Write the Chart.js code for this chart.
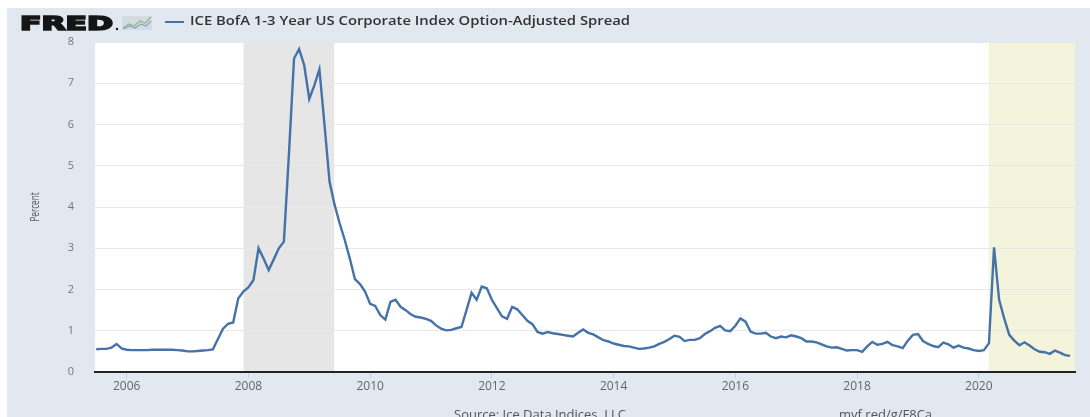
<!DOCTYPE html>
<html lang="en">
<head>
    <meta charset="UTF-8">
    <title>ICE BofA 1-3 Year US Corporate Index Option-Adjusted Spread</title>
    <script src="https://cdn.jsdelivr.net/npm/chart.js"></script>
    <style>
        body {
            margin: 0;
            padding: 0;
            background: #fff;
        }
        .chart-box {
            width: 1090px;
            height: 417px;
        }
    </style>
</head>
<body>
    <div class="chart-box">
        <canvas id="spreadChart" width="1090" height="417"></canvas>
    </div>
    <script>
// monthly values, first one is July 2005
const startYear = 2005.5;
const spread = [
    0.55, 0.56, 0.56, 0.59, 0.68, 0.57,
    0.54, 0.53, 0.53, 0.53, 0.53, 0.54, 0.54, 0.54, 0.54, 0.54, 0.53, 0.52,
    0.50, 0.50, 0.51, 0.52, 0.53, 0.55, 0.80, 1.05, 1.17, 1.20, 1.78, 1.95,
    2.05, 2.23, 3.00, 2.75, 2.47, 2.73, 3.00, 3.16, 5.30, 7.60, 7.83, 7.44,
    6.62, 6.95, 7.34, 6.00, 4.61, 4.05, 3.60, 3.20, 2.75, 2.25, 2.13, 1.95,
    1.65, 1.60, 1.38, 1.27, 1.70, 1.75, 1.58, 1.50, 1.40, 1.34, 1.32, 1.29,
    1.24, 1.13, 1.05, 1.01, 1.02, 1.06, 1.09, 1.50, 1.92, 1.75, 2.07, 2.03,
    1.75, 1.55, 1.35, 1.29, 1.58, 1.52, 1.38, 1.24, 1.16, 0.97, 0.93, 0.97,
    0.94, 0.92, 0.90, 0.88, 0.86, 0.95, 1.03, 0.95, 0.91, 0.84, 0.77, 0.74,
    0.69, 0.66, 0.63, 0.62, 0.59, 0.56, 0.57, 0.59, 0.62, 0.68, 0.73, 0.80,
    0.88, 0.85, 0.75, 0.78, 0.78, 0.82, 0.92, 0.99, 1.07, 1.12, 1.01, 0.99,
    1.12, 1.30, 1.22, 0.98, 0.93, 0.93, 0.95, 0.86, 0.82, 0.86, 0.84, 0.89,
    0.86, 0.82, 0.74, 0.74, 0.72, 0.67, 0.62, 0.59, 0.60, 0.56, 0.52, 0.53,
    0.53, 0.49, 0.62, 0.73, 0.66, 0.68, 0.73, 0.65, 0.62, 0.58, 0.76, 0.90,
    0.92, 0.75, 0.68, 0.63, 0.60, 0.71, 0.67, 0.59, 0.64, 0.59, 0.57, 0.53,
    0.51, 0.53, 0.70, 3.02, 1.75, 1.30, 0.90, 0.76, 0.65, 0.72, 0.64, 0.55,
    0.49, 0.48, 0.44, 0.52, 0.47, 0.41, 0.39
];

const xTickYears = [2006, 2008, 2010, 2012, 2014, 2016, 2018, 2020];
const yTicks = [0, 1, 2, 3, 4, 5, 6, 7, 8];
// shaded periods (decimal years); null end = to the edge of the plot
const recessionStarts = [2007.92, 2020.16];
const recessionEnds = [2009.41, null];
const recessionColors = ['#e6e6e6', '#f4f4dc'];

const seriesName = 'ICE BofA 1-3 Year US Corporate Index Option-Adjusted Spread';
const sourceText = 'Source: Ice Data Indices, LLC';
const linkText = 'myf.red/g/F8Ca';

const points = spread.map((v, i) => ({ x: startYear + i / 12, y: v }));

const bgPlugin = {
    id: 'fredBackground',
    beforeDraw(chart) {
        const { ctx, chartArea: a, scales } = chart;
        ctx.save();
        ctx.fillStyle = '#fff';
        ctx.fillRect(0, 0, chart.width, chart.height);
        ctx.fillStyle = '#e1e8f0';
        ctx.fillRect(7, 8, chart.width - 7, chart.height - 8);
        ctx.fillStyle = '#fff';
        ctx.fillRect(a.left, a.top, a.right - a.left, a.bottom - a.top);

        // recession shading
        recessionStarts.forEach((s, i) => {
            const x1 = scales.x.getPixelForValue(s);
            const e = recessionEnds[i];
            const x2 = e === null ? a.right : scales.x.getPixelForValue(e);
            ctx.fillStyle = recessionColors[i];
            ctx.fillRect(x1, a.top, x2 - x1, a.bottom - a.top);
        });
        ctx.restore();
    },
    afterDraw(chart) {
        const { ctx } = chart;
        ctx.save();

        // FRED logo (heavy, wide letters)
        ctx.fillStyle = '#151515';
        ctx.strokeStyle = '#151515';
        ctx.lineWidth = 1.6;
        ctx.lineJoin = 'miter';
        ctx.font = 'bold 18px "DejaVu Sans"';
        ctx.textBaseline = 'alphabetic';
        const fw = ctx.measureText('FRED').width;
        ctx.save();
        ctx.translate(20, 29.5);
        ctx.scale(93 / fw, 1.05);
        ctx.fillText('FRED', 0, 0);
        ctx.strokeText('FRED', 0, 0);
        ctx.restore();
        ctx.beginPath();
        ctx.arc(117, 29, 1.2, 0, Math.PI * 2);
        ctx.fill();

        // little chart icon
        ctx.fillStyle = '#d4dbe2';
        ctx.fillRect(122, 16, 30, 14);
        ctx.lineWidth = 1.2;
        ctx.strokeStyle = '#8fbf6a';
        ctx.beginPath();
        ctx.moveTo(123, 28); ctx.lineTo(129, 24); ctx.lineTo(134, 26);
        ctx.lineTo(140, 21); ctx.lineTo(145, 23); ctx.lineTo(151, 17);
        ctx.stroke();
        ctx.strokeStyle = '#7ea6c9';
        ctx.beginPath();
        ctx.moveTo(123, 29); ctx.lineTo(130, 26); ctx.lineTo(135, 28);
        ctx.lineTo(141, 24); ctx.lineTo(146, 26); ctx.lineTo(151, 21);
        ctx.stroke();

        // legend
        ctx.strokeStyle = '#4572a7';
        ctx.lineWidth = 2;
        ctx.beginPath();
        ctx.moveTo(165, 22);
        ctx.lineTo(184, 22);
        ctx.stroke();
        ctx.fillStyle = '#333';
        ctx.font = '600 12px "Open Sans"';
        ctx.textBaseline = 'middle';
        const lw = ctx.measureText(seriesName).width;
        ctx.save();
        ctx.translate(190, 22);
        ctx.scale(440 / lw, 1);
        ctx.fillText(seriesName, 0, 0);
        ctx.restore();

        // y title
        ctx.fillStyle = '#555';
        ctx.font = '12px "Open Sans"';
        ctx.textAlign = 'center';
        ctx.save();
        ctx.translate(36, 207);
        ctx.rotate(-Math.PI / 2);
        ctx.scale(0.68, 1);
        ctx.fillText('Percent', 0, 0);
        ctx.restore();

        // footer
        ctx.textAlign = 'left';
        ctx.textBaseline = 'alphabetic';
        ctx.font = '13px "Open Sans"';
        ctx.fillStyle = '#555';
        ctx.fillText(sourceText, 454, 419);
        ctx.fillText(linkText, 839, 419);
        ctx.restore();
    }
};

const ctx = document.getElementById('spreadChart').getContext('2d');
new Chart(ctx, {
    type: 'line',
    data: {
        datasets: [{
            label: seriesName,
            data: points,
            borderColor: '#4572a7',
            borderWidth: 2.4,
            pointRadius: 0,
            tension: 0,
            fill: false
        }]
    },
    options: {
        responsive: false,
        animation: false,
        layout: { padding: { top: 42, right: 15, bottom: 0, left: 0 } },
        plugins: {
            legend: { display: false },
            tooltip: { enabled: false }
        },
        scales: {
            x: {
                type: 'linear',
                min: 2005.48,
                max: 2021.58,
                afterFit: s => { s.height = 45; },
                afterBuildTicks: s => { s.ticks = xTickYears.map(v => ({ value: v })); },
                grid: {
                    drawOnChartArea: false,
                    drawTicks: true,
                    tickLength: 6,
                    tickColor: '#c5d0e6'
                },
                border: { display: true, color: '#222', width: 2 },
                ticks: {
                    padding: 1,
                    color: '#666',
                    font: { family: 'Open Sans', size: 12 },
                    callback: v => String(v),
                    maxRotation: 0
                }
            },
            y: {
                min: 0,
                max: 8,
                afterFit: s => { s.width = 95; },
                afterBuildTicks: s => { s.ticks = yTicks.map(v => ({ value: v })); },
                grid: {
                    color: '#e8e8e8',
                    drawTicks: false,
                    lineWidth: 1
                },
                border: { display: false },
                ticks: {
                    padding: 21,
                    color: '#777',
                    font: { family: 'Open Sans', size: 11 }
                }
            }
        }
    },
    plugins: [bgPlugin]
});
    </script>
</body>
</html>
